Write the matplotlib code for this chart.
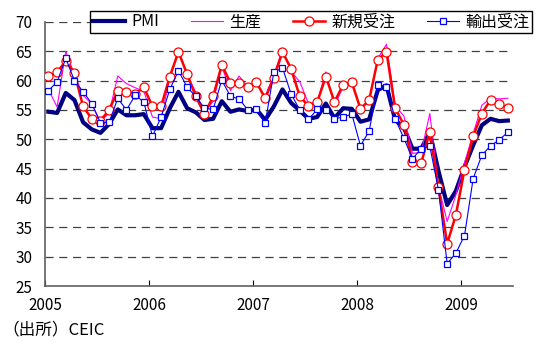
import numpy as np
import matplotlib
matplotlib.use("Agg")
import matplotlib.pyplot as plt

plt.rcParams["font.family"] = ["Noto Sans CJK JP", "DejaVu Sans"]

# monthly data, Jan 2005 - Jun 2009
years = [2005, 2006, 2007, 2008, 2009]

pmi = [
    54.7, 54.5, 57.9, 56.7, 52.9, 51.7, 51.1, 52.6, 55.1, 54.1, 54.1, 54.3,
    51.9, 51.9, 55.3, 58.1, 55.3, 54.6, 53.3, 53.5, 56.5, 54.7, 55.1, 54.8,
    55.1, 53.3, 55.6, 58.5, 56.2, 54.9, 53.5, 53.8, 56.1, 53.6, 55.3, 55.2,
    53.0, 53.4, 58.4, 59.2, 53.3, 52.0, 48.4, 48.4, 51.2, 44.6, 38.8, 41.2,
    45.3, 49.0, 52.4, 53.5, 53.1, 53.2,
]
production = [
    58.5, 55.5, 65.0, 61.0, 57.5, 56.0, 53.0, 54.5, 60.8, 59.5, 58.8, 58.2,
    53.8, 53.5, 60.5, 65.2, 61.0, 58.0, 54.5, 56.5, 62.4, 58.3, 60.8, 58.8,
    59.5, 57.3, 61.0, 65.3, 61.6, 59.8, 56.1, 56.3, 61.5, 55.6, 59.0, 59.5,
    55.2, 56.5, 63.8, 66.2, 55.7, 54.0, 47.6, 47.8, 54.4, 42.0, 36.0, 40.5,
    46.0, 51.0, 55.8, 57.0, 56.9, 57.0,
]
new_orders = [
    60.8, 61.4, 63.4, 61.3, 55.6, 53.5, 53.2, 55.0, 58.3, 58.0, 57.7, 58.9,
    55.6, 55.6, 60.7, 64.9, 61.1, 57.3, 54.3, 57.3, 62.7, 59.6, 59.6, 58.9,
    59.7, 57.0, 60.5, 64.9, 62.0, 57.3, 55.7, 56.3, 60.7, 56.4, 59.3, 59.7,
    55.2, 56.7, 63.6, 64.9, 55.3, 52.5, 46.2, 45.9, 51.3, 41.8, 32.2, 37.1,
    44.8, 50.5, 54.4, 56.7, 56.0, 55.4,
]
export_orders = [
    58.3, 59.8, 63.8, 60.0, 58.1, 56.1, 52.8, 52.9, 57.0, 55.0, 57.5, 56.4,
    50.5, 53.8, 58.5, 61.7, 58.9, 57.3, 55.3, 55.1, 60.1, 57.3, 56.9, 55.0,
    55.1, 52.7, 61.4, 62.2, 57.7, 55.0, 53.4, 55.1, 55.0, 53.5, 53.8, 54.3,
    48.9, 51.4, 59.2, 59.0, 53.5, 50.2, 46.7, 48.4, 48.8, 41.4, 28.8, 30.6,
    33.6, 43.3, 47.3, 48.9, 49.9, 51.2,
]

x = 2005 + (np.arange(len(pmi)) + 0.4) / 12

fig = plt.figure(figsize=(5.38, 3.49), dpi=100)
ax = fig.add_axes([0.0836, 0.1805, 0.87, 0.7565])

for yv in range(30, 75, 5):
    ax.axhline(yv, color="#404040", lw=0.9, dashes=(6.5, 4.5), zorder=1)

ax.plot(x, pmi, color="#000080", lw=3.0, label="PMI", zorder=3)
ax.plot(x, production, color="#FF00FF", lw=0.8, label="生産", zorder=4)
ax.plot(x, new_orders, color="#FF0000", lw=1.8, marker="o", ms=6.5,
        mfc="white", mec="#FF0000", mew=0.9, label="新規受注", zorder=5)
ax.plot(x, export_orders, color="#0000FF", lw=0.8, marker="s", ms=4.8,
        mfc="white", mec="#0000FF", mew=0.9, label="輸出受注", zorder=6)

ax.set_xlim(2005, 2009.5)
ax.set_ylim(25, 70)
ax.set_xticks(years)
ax.set_xticklabels([str(y) for y in years])
ax.set_yticks(range(25, 75, 5))

ax.spines["top"].set_visible(False)
ax.spines["right"].set_visible(False)
for s in ["left", "bottom"]:
    ax.spines[s].set_color("#606060")
    ax.spines[s].set_linewidth(1.2)

ax.tick_params(axis="x", direction="in", length=4, width=0.8, pad=8,
               labelsize=11, colors="black")
ax.tick_params(axis="y", length=0, pad=9, labelsize=11)

leg = ax.legend(loc="upper right", bbox_to_anchor=(532 / 538, 1 - 11 / 349),
                bbox_transform=fig.transFigure, ncol=4, fontsize=11.5,
                handlelength=2.0, handletextpad=0.4, columnspacing=2.0,
                borderpad=0.15, borderaxespad=0, fancybox=False,
                framealpha=1, edgecolor="black")
leg.get_frame().set_linewidth(1.0)
leg.set_zorder(10)

fig.text(0.005, 0.055, "（出所）CEIC", fontsize=12, ha="left", va="center")

fig.savefig("out.png", dpi=100)
